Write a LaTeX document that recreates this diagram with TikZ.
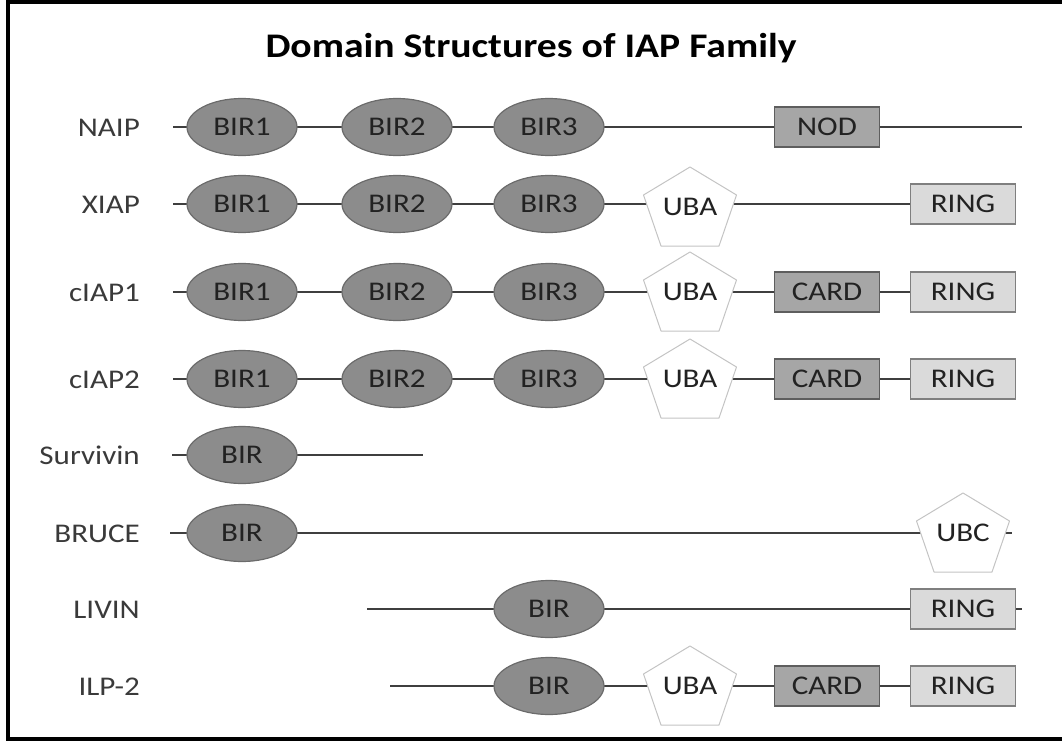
\documentclass[tikz,border=0pt]{standalone}
\usepackage{fontspec}
\setmainfont[FakeStretch=1.15]{Carlito}
\usetikzlibrary{shapes.geometric,backgrounds}

\definecolor{birfill}{HTML}{8C8C8C}
\definecolor{birdraw}{HTML}{6B6B6B}
\definecolor{boxfill}{HTML}{A6A6A6}
\definecolor{boxdraw}{HTML}{5E5E5E}
\definecolor{ringfill}{HTML}{DADADA}
\definecolor{ringdraw}{HTML}{7F7F7F}
\definecolor{pentdraw}{HTML}{C4C4C4}
\definecolor{linkc}{HTML}{3F3F3F}
\definecolor{labc}{HTML}{3A3A3A}
\definecolor{domtext}{HTML}{222222}

\newcommand\domfont{\fontsize{27}{30}\selectfont}

% pentagon domain: name, centre, text
\newcommand\pentdomain[3]{%
  \path[pentshape, shift={#2}] (0,-40) -- (46.5,-12) -- (29,39) -- (-29,39) -- (-46.5,-12) -- cycle;
  \node[penttext] (#1) at #2 {#3};
}

\begin{document}
\begin{tikzpicture}[x=1pt,y=-1pt,
  bir/.style={ellipse, draw=birdraw, fill=birfill, line width=1.2pt,
    minimum width=110pt, minimum height=57pt, inner sep=0pt, text=domtext, font=\domfont},
  dombox/.style={rectangle, draw=boxdraw, fill=boxfill, line width=1.2pt,
    minimum width=105pt, minimum height=40pt, inner sep=0pt, text=domtext, font=\domfont},
  ringbox/.style={dombox, draw=ringdraw, fill=ringfill},
  pentshape/.style={draw=pentdraw, fill=white, line width=1pt, line join=round},
  penttext/.style={inner sep=0pt, text=domtext, font=\domfont},
  rowlabel/.style={anchor=base east, inner sep=0pt, text=labc, font=\domfont},
  link/.style={draw=linkc, line width=2.4pt}]

\useasboundingbox (0,0) rectangle (1062,741);
\clip (0,0) rectangle (1062,741);
% frame: top, left and bottom edges (the right edge lies beyond the page)
\draw[line width=4pt] (1090,2) -- (8,2) -- (8,739) -- (1090,739);

\node[anchor=base, inner sep=0pt, font=\bfseries\fontsize{34.5}{40}\selectfont] (title) at (531,58) {Domain Structures of IAP Family};

% row labels
\node[rowlabel] (lnaip) at (140,136) {NAIP};
\node[rowlabel] (lxiap) at (140,213) {XIAP};
\node[rowlabel] (lciap1) at (140,301) {cIAP1};
\node[rowlabel] (lciap2) at (140,388) {cIAP2};
\node[rowlabel] (lsurv) at (140,464) {Survivin};
\node[rowlabel] (lbruce) at (140,542) {BRUCE};
\node[rowlabel] (llivin) at (140,618) {LIVIN};
\node[rowlabel] (lilp) at (140,695) {ILP-2};

% NAIP
\coordinate (naipS) at (173,127);
\coordinate (naipE) at (1022,127);
\node[bir] (naip1) at (242,127) {BIR1};
\node[bir] (naip2) at (397,127) {BIR2};
\node[bir] (naip3) at (549,127) {BIR3};
\node[dombox] (naipN) at (827,127) {NOD};

% XIAP
\coordinate (xiapS) at (173,204);
\node[bir] (xiap1) at (242,204) {BIR1};
\node[bir] (xiap2) at (397,204) {BIR2};
\node[bir] (xiap3) at (549,204) {BIR3};
\pentdomain{xiapU}{(690,207)}{UBA}
\node[ringbox] (xiapR) at (963,204) {RING};

% cIAP1
\coordinate (ciap1S) at (173,292);
\node[bir] (ciap11) at (242,292) {BIR1};
\node[bir] (ciap12) at (397,292) {BIR2};
\node[bir] (ciap13) at (549,292) {BIR3};
\pentdomain{ciap1U}{(690,292)}{UBA}
\node[dombox] (ciap1C) at (827,292) {CARD};
\node[ringbox] (ciap1R) at (963,292) {RING};

% cIAP2
\coordinate (ciap2S) at (173,379);
\node[bir] (ciap21) at (242,379) {BIR1};
\node[bir] (ciap22) at (397,379) {BIR2};
\node[bir] (ciap23) at (549,379) {BIR3};
\pentdomain{ciap2U}{(690,379)}{UBA}
\node[dombox] (ciap2C) at (827,379) {CARD};
\node[ringbox] (ciap2R) at (963,379) {RING};

% Survivin
\coordinate (survS) at (172,455);
\coordinate (survE) at (423,455);
\node[bir] (surv1) at (242,455) {BIR};

% BRUCE
\coordinate (bruceS) at (170,533);
\coordinate (bruceE) at (1012,533);
\node[bir] (bruce1) at (242,533) {BIR};
\pentdomain{bruceU}{(963,533)}{UBC}

% LIVIN
\coordinate (livinS) at (367,609);
\coordinate (livinE) at (1022,609);
\node[bir] (livin1) at (549,609) {BIR};
\node[ringbox] (livinR) at (963,609) {RING};

% ILP-2
\coordinate (ilpS) at (390,686);
\node[bir] (ilp1) at (549,686) {BIR};
\pentdomain{ilpU}{(690,686)}{UBA}
\node[dombox] (ilpC) at (827,686) {CARD};
\node[ringbox] (ilpR) at (963,686) {RING};

% backbone linkers behind the domains
\begin{scope}[on background layer]
  \draw[link] (naipS) -- (naip1.center) -- (naip2.center) -- (naip3.center) -- (naipN.center) -- (naipE);
  \draw[link] (xiapS) -- (xiap1.center) -- (xiap2.center) -- (xiap3.center) -- (xiapU.center |- xiap3.center) -- (xiapR.center);
  \draw[link] (ciap1S) -- (ciap11.center) -- (ciap12.center) -- (ciap13.center) -- (ciap1U.center) -- (ciap1C.center) -- (ciap1R.center);
  \draw[link] (ciap2S) -- (ciap21.center) -- (ciap22.center) -- (ciap23.center) -- (ciap2U.center) -- (ciap2C.center) -- (ciap2R.center);
  \draw[link] (survS) -- (surv1.center) -- (survE);
  \draw[link] (bruceS) -- (bruce1.center) -- (bruceU.center) -- (bruceE);
  \draw[link] (livinS) -- (livin1.center) -- (livinR.center) -- (livinE);
  \draw[link] (ilpS) -- (ilp1.center) -- (ilpU.center) -- (ilpC.center) -- (ilpR.center);
\end{scope}

\end{tikzpicture}
\end{document}
